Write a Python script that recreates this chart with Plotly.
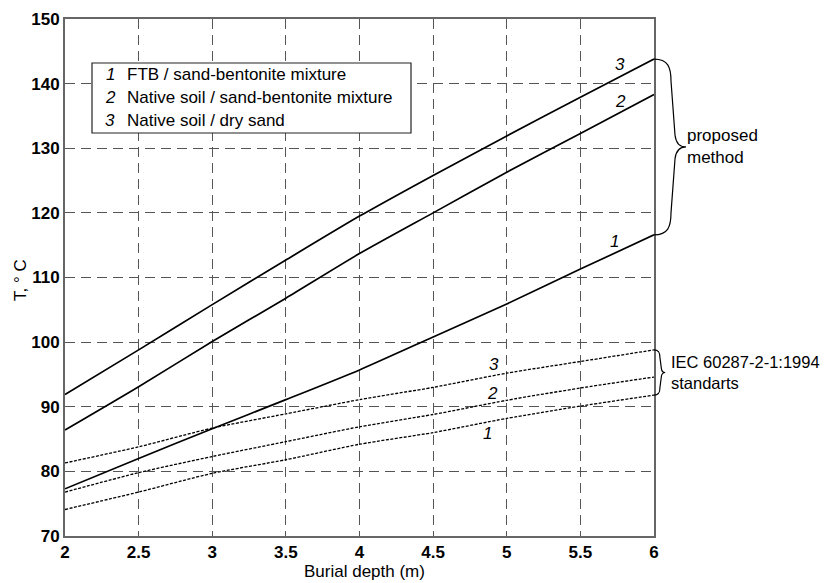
import plotly.graph_objects as go

# ---- data ----
depth = [2.0, 2.5, 3.0, 3.5, 4.0, 4.5, 5.0, 5.5, 6.0]
prop_1 = [77.3, 82.0, 86.6, 91.1, 95.7, 100.8, 105.9, 111.3, 116.6]
prop_2 = [86.4, 93.1, 100.1, 106.8, 113.7, 120.0, 126.3, 132.3, 138.3]
prop_3 = [91.9, 98.8, 105.8, 112.7, 119.5, 125.8, 131.9, 137.9, 143.8]
iec_1 = [74.1, 76.8, 79.7, 81.8, 84.2, 86.0, 88.2, 90.1, 91.8]
iec_2 = [76.8, 79.8, 82.3, 84.6, 86.9, 88.8, 91.0, 92.9, 94.6]
iec_3 = [81.3, 83.8, 86.7, 88.9, 91.1, 93.0, 95.2, 97.0, 98.8]
legend_labels = ["FTB / sand-bentonite mixture",
                 "Native soil / sand-bentonite mixture",
                 "Native soil / dry sand"]
x_ticks = [2, 2.5, 3, 3.5, 4, 4.5, 5, 5.5, 6]
x_tick_text = ["2", "2.5", "3", "3.5", "4", "4.5", "5", "5.5", "6"]
y_ticks = [70, 80, 90, 100, 110, 120, 130, 140, 150]

XR = [2, 6]
YR = [70, 150]
W, H = 829, 583
OFF = 8  # page body margin
# plot area edges on screen
SL, SR, ST, SB = 65, 654, 19, 536
PW = SR - SL
PH = SB - ST
ML, MT = SL - OFF, ST - OFF
MR = W - ML - PW
MB = H - MT - PH

FONT = "Liberation Sans, Arial, sans-serif"

def px_x(dx):  # pixel offset -> paper
    return dx / PW

def py_y(dy):
    return dy / PH

def val_to_paper_y(v):
    return (v - YR[0]) / (YR[1] - YR[0])

def pix_to_paper_x(p):
    return (p - SL) / PW

def pix_to_paper_y(p):
    return (SB - p) / PH

fig = go.Figure()

for ys in (prop_1, prop_2, prop_3):
    fig.add_trace(go.Scatter(x=depth, y=ys, mode="lines",
                             line=dict(color="black", width=1.7, shape="spline", smoothing=0.6),
                             showlegend=False, hoverinfo="skip"))
for ys in (iec_1, iec_2, iec_3):
    fig.add_trace(go.Scatter(x=depth, y=ys, mode="lines",
                             line=dict(color="black", width=1.3, dash="3px,1.5px",
                                       shape="spline", smoothing=0.6),
                             showlegend=False, hoverinfo="skip"))

shapes = []

def brace(v_top, v_bot, s):
    x0 = 1.0
    yt = val_to_paper_y(v_top)
    yb = val_to_paper_y(v_bot)
    ym = (yt + yb) / 2
    X = lambda d: x0 + px_x(d * s)
    Yd = lambda d: py_y(d * s)
    w1, a, tip = 14, 17, 32
    p = (f"M {X(0)},{yt} "
         f"C {X(w1)},{yt} {X(a)},{yt - Yd(8)} {X(a)},{yt - Yd(22)} "
         f"L {X(a + 4)},{ym + Yd(12)} "
         f"C {X(a + 5)},{ym + Yd(3)} {X(a + 9)},{ym} {X(tip)},{ym} "
         f"C {X(a + 9)},{ym} {X(a + 5)},{ym - Yd(3)} {X(a + 4)},{ym - Yd(12)} "
         f"L {X(a)},{yb + Yd(22)} "
         f"C {X(a)},{yb + Yd(8)} {X(w1)},{yb} {X(0)},{yb}")
    return dict(type="path", xref="paper", yref="paper", path=p,
                line=dict(color="black", width=1.2))

shapes.append(brace(prop_3[-1], prop_1[-1], 1.0))
shapes.append(brace(iec_3[-1], iec_1[-1], 0.35))

# legend box
shapes.append(dict(type="rect", xref="paper", yref="paper",
                   x0=pix_to_paper_x(92), x1=pix_to_paper_x(411),
                   y0=pix_to_paper_y(133), y1=pix_to_paper_y(63),
                   fillcolor="white", line=dict(color="#222", width=1.2),
                   layer="above"))

annotations = []
for i, (lab, ypx) in enumerate(zip(legend_labels, [75, 98, 121])):
    annotations.append(dict(xref="paper", yref="paper",
                            x=pix_to_paper_x(110), y=pix_to_paper_y(ypx),
                            text=f"<i>{i + 1}</i>", showarrow=False,
                            xanchor="center", yanchor="middle",
                            font=dict(family=FONT, size=17, color="black")))
    annotations.append(dict(xref="paper", yref="paper",
                            x=pix_to_paper_x(125), y=pix_to_paper_y(ypx),
                            text=lab, showarrow=False,
                            xanchor="left", yanchor="middle",
                            font=dict(family=FONT, size=17, color="black")))

# curve labels
curve_labels = [("3", 5.77, 143.0), ("2", 5.77, 137.3), ("1", 5.73, 115.5),
                ("3", 4.91, 96.6), ("2", 4.90, 92.1), ("1", 4.87, 85.9)]
for t, xv, yv in curve_labels:
    annotations.append(dict(x=xv, y=yv, xref="x", yref="y", text=f"<i>{t}</i>",
                            showarrow=False, xanchor="center", yanchor="middle",
                            font=dict(family=FONT, size=17, color="black")))

annotations.append(dict(xref="paper", yref="paper", x=1 + px_x(31),
                        y=(val_to_paper_y(prop_3[-1]) + val_to_paper_y(prop_1[-1])) / 2,
                        text="proposed<br>method", showarrow=False, align="left",
                        xanchor="left", yanchor="middle",
                        font=dict(family=FONT, size=17, color="black")))
annotations.append(dict(xref="paper", yref="paper", x=1 + px_x(15),
                        y=(val_to_paper_y(iec_3[-1]) + val_to_paper_y(iec_1[-1])) / 2,
                        text="IEC 60287-2-1:1994<br>standarts", showarrow=False,
                        align="left", xanchor="left", yanchor="middle",
                        font=dict(family=FONT, size=16.5, color="black")))

# axis titles
annotations.append(dict(xref="paper", yref="paper", x=pix_to_paper_x(364),
                        y=pix_to_paper_y(571), text="Burial depth (m)",
                        showarrow=False, xanchor="center", yanchor="middle",
                        font=dict(family=FONT, size=17, color="black")))
annotations.append(dict(xref="paper", yref="paper", x=pix_to_paper_x(20),
                        y=pix_to_paper_y(280), text="T, ° C", textangle=-90,
                        showarrow=False, xanchor="center", yanchor="middle",
                        font=dict(family=FONT, size=17, color="black")))

grid_common = dict(showgrid=True, gridcolor="#555", gridwidth=1.2,
                   griddash="10px,6px", showline=True, linecolor="#666",
                   linewidth=2, mirror=True, zeroline=False, ticks="",
                   automargin=False,
                   tickfont=dict(family=FONT, size=17, color="black", weight="bold"))

fig.update_layout(
    width=W, height=H,
    margin=dict(l=ML, r=MR, t=MT, b=MB),
    paper_bgcolor="white", plot_bgcolor="white",
    xaxis=dict(range=XR, tickvals=x_ticks, ticktext=x_tick_text, **grid_common),
    yaxis=dict(range=YR, tickvals=y_ticks, **grid_common),
    shapes=shapes,
    annotations=annotations,
)

fig.write_html("out.html")
